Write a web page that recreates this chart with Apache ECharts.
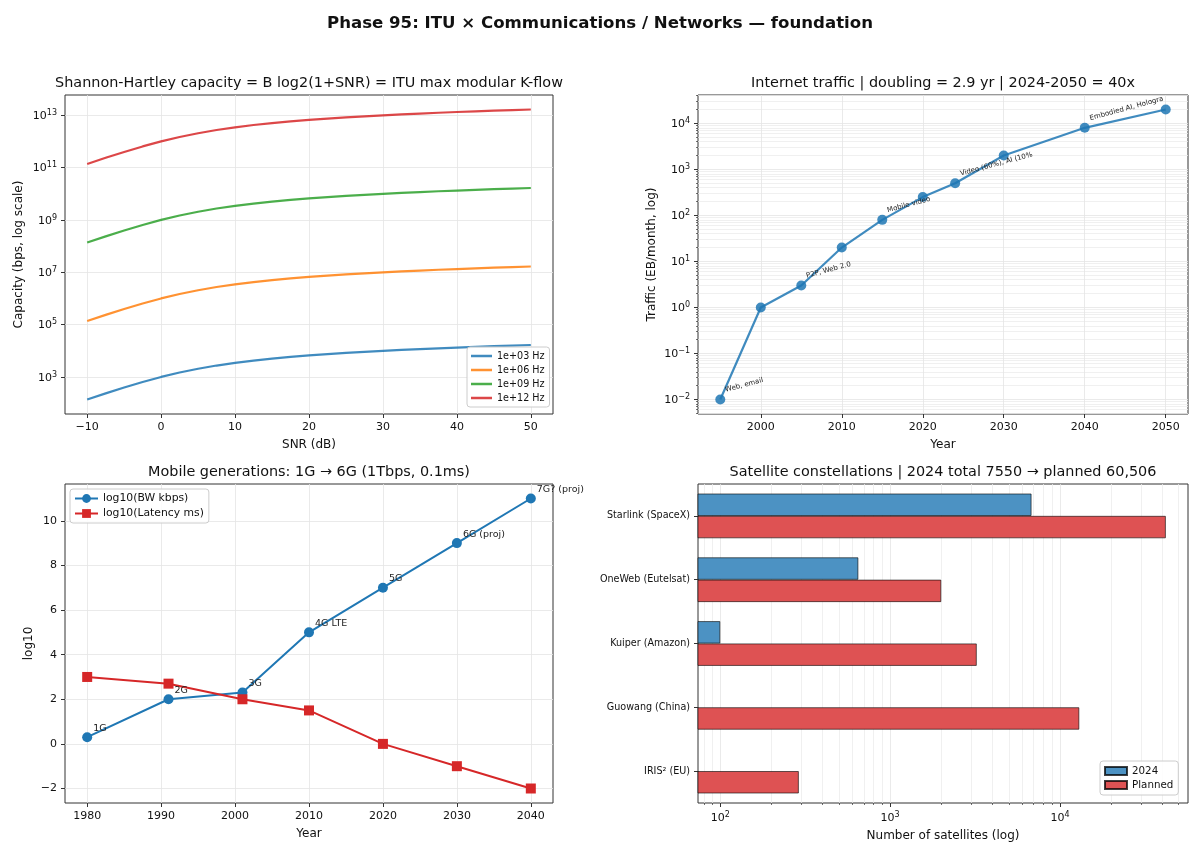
<!DOCTYPE html>
<html><head><meta charset="utf-8">
<script src="https://cdn.jsdelivr.net/npm/echarts@6/dist/echarts.min.js"></script>
<style>html,body{margin:0;padding:0;background:#fff}#c{width:1200px;height:857px}</style>
</head><body><div id="c"></div>
<script>
// ---------------- data ----------------
const snrDb = [-10,-7.5,-5,-2.5,0,2.5,5,7.5,10,12.5,15,17.5,20,22.5,25,27.5,30,32.5,35,37.5,40,42.5,45,47.5,50];
const capacity1e3  = [137.5,236.1,396.4,643.7,1000,1474,2057,2728,3459,4231,5028,5839,6658,7482,8309,9138,9967,10797,11627,12458,13288,14118,14949,15779,16610];
const capacity1e6  = [1.375e5,2.361e5,3.964e5,6.437e5,1.0e6,1.474e6,2.057e6,2.728e6,3.459e6,4.231e6,5.028e6,5.839e6,6.658e6,7.482e6,8.309e6,9.138e6,9.967e6,1.0797e7,1.1627e7,1.2458e7,1.3288e7,1.4118e7,1.4949e7,1.5779e7,1.661e7];
const capacity1e9  = [1.375e8,2.361e8,3.964e8,6.437e8,1.0e9,1.474e9,2.057e9,2.728e9,3.459e9,4.231e9,5.028e9,5.839e9,6.658e9,7.482e9,8.309e9,9.138e9,9.967e9,1.0797e10,1.1627e10,1.2458e10,1.3288e10,1.4118e10,1.4949e10,1.5779e10,1.661e10];
const capacity1e12 = [1.375e11,2.361e11,3.964e11,6.437e11,1.0e12,1.474e12,2.057e12,2.728e12,3.459e12,4.231e12,5.028e12,5.839e12,6.658e12,7.482e12,8.309e12,9.138e12,9.967e12,1.0797e13,1.1627e13,1.2458e13,1.3288e13,1.4118e13,1.4949e13,1.5779e13,1.661e13];
const bandwidthLabels = ['1e+03 Hz','1e+06 Hz','1e+09 Hz','1e+12 Hz'];

const trafficYears = [1995,2000,2005,2010,2015,2020,2024,2030,2040,2050];
const trafficEB    = [0.01,1,3,20,80,250,500,2000,8000,20000];
const trafficNotes = ['Web, email','','P2P, Web 2.0','','Mobile video','','Video (60%), AI (10%','','Embodied AI, Hologra',''];

const genYears   = [1980,1991,2001,2010,2020,2030,2040];
const genNames   = ['1G','2G','3G','4G LTE','5G','6G (proj)','7G? (proj)'];
const bwLog10    = [0.3,2,2.3,5,7,9,11];
const latLog10   = [3,2.7,2,1.5,0,-1,-2];

const constellations = ['Starlink (SpaceX)','OneWeb (Eutelsat)','Kuiper (Amazon)','Guowang (China)','IRIS\u00B2 (EU)'];
const sats2024    = [6800,650,100,0,0];
const satsPlanned = [42000,2000,3236,12992,290];

// tick labels
const snrTicks = [-10,0,10,20,30,40,50];
const capExpTicks = [3,5,7,9,11,13];
const trafficYearTicks = [2000,2010,2020,2030,2040,2050];
const trafficExpTicks = [-2,-1,0,1,2,3,4];
const genYearTicks = [1980,1990,2000,2010,2020,2030,2040];
const log10Ticks = [-2,0,2,4,6,8,10];
const satExpTicks = [2,3,4];

// ---------------- chart ----------------
const F = 'DejaVu Sans';
const INK = '#111';
const GRIDC = '#e4e4e4';
const L10 = Math.log10;
const um = v => String(v).replace('-', '\u2212');
const expLabel = v => '{b|10}{s|' + um(Math.round(v)) + '}';
const expRich = {
  b: {fontFamily: F, fontSize: 11, color: INK, lineHeight: 13, verticalAlign: 'bottom'},
  s: {fontFamily: F, fontSize: 8, color: INK, lineHeight: 9, padding: [0,0,6,0], verticalAlign: 'top'}
};
function minorLogTicks(lo, hi) {
  const out = [];
  for (let n = Math.floor(lo) - 1; n <= Math.ceil(hi); n++)
    for (let k = 2; k <= 9; k++) { const v = n + L10(k); if (v > lo && v < hi) out.push(v); }
  return out;
}

const gridBase = {show: true, borderColor: '#333', borderWidth: 1, backgroundColor: 'transparent'};
const grids = [
  {left: 65,  top: 95,  width: 488, height: 319},
  {left: 698, top: 95,  width: 490, height: 319},
  {left: 65,  top: 484, width: 488, height: 319},
  {left: 698, top: 484, width: 490, height: 319}
].map(g => Object.assign({}, gridBase, g));

function axis(o) {
  return {
    type: o.type || 'value', gridIndex: o.grid, min: o.min, max: o.max, position: o.position,
    inverse: !!o.inverse, data: o.data, silent: true,
    axisLine: {show: false, onZero: false},
    axisTick: {show: true, length: o.tickLen || 4, inside: false, alignWithLabel: true,
               customValues: o.ticks, lineStyle: {color: '#333', width: o.tickW || 1}},
    axisLabel: {show: o.labels !== false, customValues: o.ticks, margin: 8, fontFamily: F,
                fontSize: o.fontSize || 11, color: INK, formatter: o.formatter, rich: o.rich},
    splitLine: {show: !!o.split, lineStyle: {color: o.splitColor || GRIDC, width: 0.8}},
    name: o.name, nameLocation: 'middle', nameGap: o.nameGap,
    nameTextStyle: {fontFamily: F, fontSize: 12, color: INK}
  };
}

const trMin = -2.315, trMax = 4.616, brMin = 1.869, brMax = 4.754;

const xAxis = [
  axis({grid: 0, min: -13, max: 53, ticks: snrTicks, split: true, formatter: v => um(v), name: 'SNR (dB)', nameGap: 25}),
  axis({grid: 1, min: 1992.25, max: 2052.75, ticks: trafficYearTicks, split: true, formatter: v => String(v), name: 'Year', nameGap: 25}),
  axis({grid: 2, min: 1977, max: 2043, ticks: genYearTicks, split: true, formatter: v => String(v), name: 'Year', nameGap: 25}),
  axis({grid: 3, min: brMin, max: brMax, ticks: satExpTicks, split: true, formatter: expLabel, rich: expRich, name: 'Number of satellites (log)', nameGap: 27, position: 'bottom'}),
  axis({grid: 3, min: brMin, max: brMax, ticks: minorLogTicks(brMin, brMax), split: true, labels: false, tickLen: 2, tickW: 0.7, splitColor: '#ececec', position: 'bottom'})
];
const yAxis = [
  axis({grid: 0, min: 1.584, max: 13.774, ticks: capExpTicks, split: true, formatter: expLabel, rich: expRich, name: 'Capacity (bps, log scale)', nameGap: 40}),
  axis({grid: 1, min: trMin, max: trMax, ticks: trafficExpTicks, split: true, formatter: expLabel, rich: expRich, name: 'Traffic (EB/month, log)', nameGap: 40, position: 'left'}),
  axis({grid: 1, min: trMin, max: trMax, ticks: minorLogTicks(trMin, trMax), split: true, labels: false, tickLen: 2, tickW: 0.7, splitColor: '#ececec', position: 'left'}),
  axis({grid: 2, min: -2.65, max: 11.65, ticks: log10Ticks, split: true, formatter: v => um(v), name: 'log10', nameGap: 30}),
  axis({grid: 3, type: 'category', data: constellations, inverse: true, split: false, fontSize: 9.6})
];

const tab = ['#1f77b4','#ff7f0e','#2ca02c','#d62728'];
const capSeries = [capacity1e3, capacity1e6, capacity1e9, capacity1e12].map((arr, k) => ({
  type: 'line', name: bandwidthLabels[k], xAxisIndex: 0, yAxisIndex: 0,
  data: snrDb.map((s, i) => [s, L10(arr[i])]), symbol: 'none', smooth: false,
  lineStyle: {width: 2.2, color: tab[k], opacity: 0.85, join: 'round'}, itemStyle: {color: tab[k], opacity: 0.85}
}));

const series = capSeries.concat([
  {
    type: 'line', name: 'Traffic', xAxisIndex: 1, yAxisIndex: 1,
    data: trafficYears.map((y, i) => [y, L10(trafficEB[i])]),
    symbol: 'circle', symbolSize: 10,
    lineStyle: {width: 2.2, color: 'rgba(31,119,180,0.85)'},
    itemStyle: {color: 'rgba(31,119,180,0.85)'},
    label: {show: true, formatter: p => trafficNotes[p.dataIndex], position: [11, -1],
            align: 'left', verticalAlign: 'bottom', rotate: 15, fontFamily: F, fontSize: 7, color: '#222'}
  },
  {
    type: 'line', name: 'log10(BW kbps)', xAxisIndex: 2, yAxisIndex: 3,
    data: genYears.map((y, i) => [y, bwLog10[i]]),
    symbol: 'circle', symbolSize: 10, lineStyle: {width: 2, color: '#1f77b4'}, itemStyle: {color: '#1f77b4'},
    label: {show: true, formatter: p => genNames[p.dataIndex], position: [11, 1],
            align: 'left', verticalAlign: 'bottom', fontFamily: F, fontSize: 9.5, color: '#222'}
  },
  {
    type: 'line', name: 'log10(Latency ms)', xAxisIndex: 2, yAxisIndex: 3,
    data: genYears.map((y, i) => [y, latLog10[i]]),
    symbol: 'rect', symbolSize: 10, lineStyle: {width: 2, color: '#d62728'}, itemStyle: {color: '#d62728'}
  },
  {
    type: 'bar', name: '2024', xAxisIndex: 3, yAxisIndex: 4, clip: true,
    data: sats2024.map(v => v > 0 ? L10(v) : null), barWidth: '35%', barGap: '0%',
    itemStyle: {color: '#4c92c3', borderColor: 'rgba(0,0,0,0.75)', borderWidth: 0.8}
  },
  {
    type: 'bar', name: 'Planned', xAxisIndex: 3, yAxisIndex: 4, clip: true,
    data: satsPlanned.map(v => v > 0 ? L10(v) : null), barWidth: '35%', barGap: '0%',
    itemStyle: {color: '#de5253', borderColor: 'rgba(0,0,0,0.75)', borderWidth: 0.8}
  }
]);

const legendBox = {
  orient: 'vertical', backgroundColor: 'rgba(255,255,255,0.85)', borderColor: '#cccccc',
  borderWidth: 1, borderRadius: 3, selectedMode: false
};
const legend = [
  Object.assign({}, legendBox, {data: bandwidthLabels, left: 467, top: 347, icon: 'rect', itemWidth: 21, itemHeight: 2.5, itemGap: 4,
    padding: [4, 5, 4, 4], textStyle: {fontFamily: F, fontSize: 9.6, color: INK}}),
  Object.assign({}, legendBox, {data: ['log10(BW kbps)', 'log10(Latency ms)'], left: 70, top: 489, itemWidth: 23, itemHeight: 11,
    itemGap: 4, padding: [4, 5, 4, 4], textStyle: {fontFamily: F, fontSize: 10.8, color: INK}}),
  Object.assign({}, legendBox, {data: ['2024', 'Planned'], left: 1100, top: 761, itemWidth: 22, itemHeight: 8, itemGap: 4,
    icon: 'rect', padding: [5, 5, 5, 4], textStyle: {fontFamily: F, fontSize: 10.3, color: INK}})
];

const titleAt = (text, x, y, size, weight) => ({
  text, left: x, top: y, textAlign: 'center', textVerticalAlign: 'middle', padding: 0,
  textStyle: {fontFamily: F, fontSize: size, fontWeight: weight || 'normal', color: INK}
});
const title = [
  titleAt('Phase 95: ITU \u00D7 Communications / Networks \u2014 foundation', 600, 24, 16.6, 'bold'),
  titleAt('Shannon-Hartley capacity = B log2(1+SNR) = ITU max modular K-flow', 309, 83, 14.4),
  titleAt('Internet traffic | doubling = 2.9 yr | 2024-2050 = 40x', 943, 83, 14.4),
  titleAt('Mobile generations: 1G \u2192 6G (1Tbps, 0.1ms)', 309, 472, 14.4),
  titleAt('Satellite constellations | 2024 total 7550 \u2192 planned 60,506', 943, 472, 14.4)
];

const chart = echarts.init(document.getElementById('c'), null, {renderer: 'canvas'});
chart.setOption({
  animation: false, backgroundColor: '#ffffff',
  textStyle: {fontFamily: F},
  title, grid: grids, xAxis, yAxis, legend, series
});
</script>
</body></html>
